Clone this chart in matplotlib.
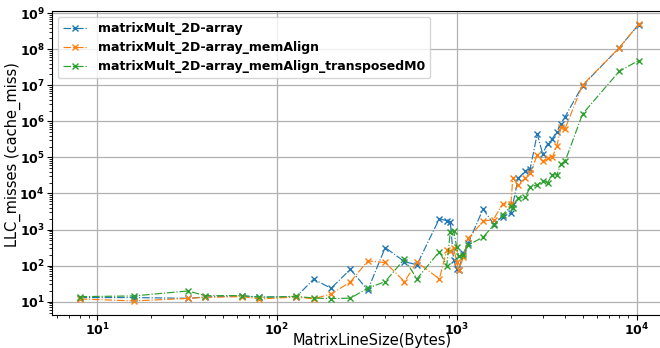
import matplotlib
matplotlib.use("Agg")
import matplotlib.pyplot as plt

plt.rcParams['font.weight'] = 'bold'

line_size = [8, 16, 32, 40, 64, 80, 128, 160, 200, 256, 320, 400, 512, 600,
             800, 880, 920, 960, 1000, 1024, 1088, 1160, 1400, 1600, 1800,
             2000, 2048, 2200, 2400, 2560, 2800, 3000, 3200, 3400, 3600,
             3800, 4000, 5000, 8000, 10240]

misses_2d = [13, 13, 12.4, 13.5, 14.5, 13.5, 13.5, 42, 23.5, 79, 21, 316, 129, 105,
             2000, 1750, 1650, 144, 81, 75, 221, 430, 3700, 1450, 2300,
             2850, 5000, 27000, 41000, 49000, 450000, 128000, 240000, 335000, 515000,
             870000, 1.35e6, 9.8e6, 1.1e8, 4.8e8]

misses_memalign = [11.9, 10.5, 12.3, 13.2, 13.8, 11.9, 13.5, 12, 16.4, 35, 135, 122, 36, 124,
                   43, 270, 260, 300, 128, 76, 170, 575, 1700, 1900, 5200,
                   5000, 27000, 17600, 27000, 38000, 114000, 78000, 95000, 102000, 210000,
                   690000, 630000, 1.02e7, 1.1e8, 4.9e8]

misses_transposed = [13.8, 14.4, 19.8, 14.7, 14.7, 13.2, 14, 12.6, 12.2, 12.5, 23.6, 36, 153, 42.6,
                     245, 100, 880, 920, 325, 180, 200, 375, 615, 1300, 2600,
                     4400, 4000, 7300, 8000, 15000, 17400, 22300, 20000, 33000, 33000,
                     67000, 78000, 1.6e6, 2.45e7, 4.85e7]

labels = ["matrixMult_2D-array", "matrixMult_2D-array_memAlign",
          "matrixMult_2D-array_memAlign_transposedM0"]

fig = plt.figure(figsize=(6.6, 3.48), dpi=100)
ax = fig.add_axes([0.0783, 0.0948, 0.9315, 0.8745])

for ys, lab in zip([misses_2d, misses_memalign, misses_transposed], labels):
    ax.plot(line_size, ys, linestyle='-.', marker='x', linewidth=0.85,
            markersize=4, label=lab)

ax.set_xscale('log')
ax.set_yscale('log')
ax.set_xlim(10 ** 0.748, 10 ** 4.1656)
ax.set_ylim(10 ** 0.63, 10 ** 9.07)
ax.grid(True, which='major', color='#b0b0b0', linewidth=0.9)
ax.set_axisbelow(True)

ax.set_xlabel("MatrixLineSize(Bytes)", fontsize=10.5, fontweight='normal')
ax.set_ylabel("LLC_misses (cache_miss)", fontsize=10.5, fontweight='normal')
ax.xaxis.set_label_coords(0.521, -0.060)
ax.yaxis.set_label_coords(-0.050, 0.526)
ax.tick_params(axis='both', which='major', labelsize=9, pad=1.5)

ax.legend(loc='upper left', prop={'weight': 'bold', 'size': 9})

fig.savefig("out.png", dpi=100)
